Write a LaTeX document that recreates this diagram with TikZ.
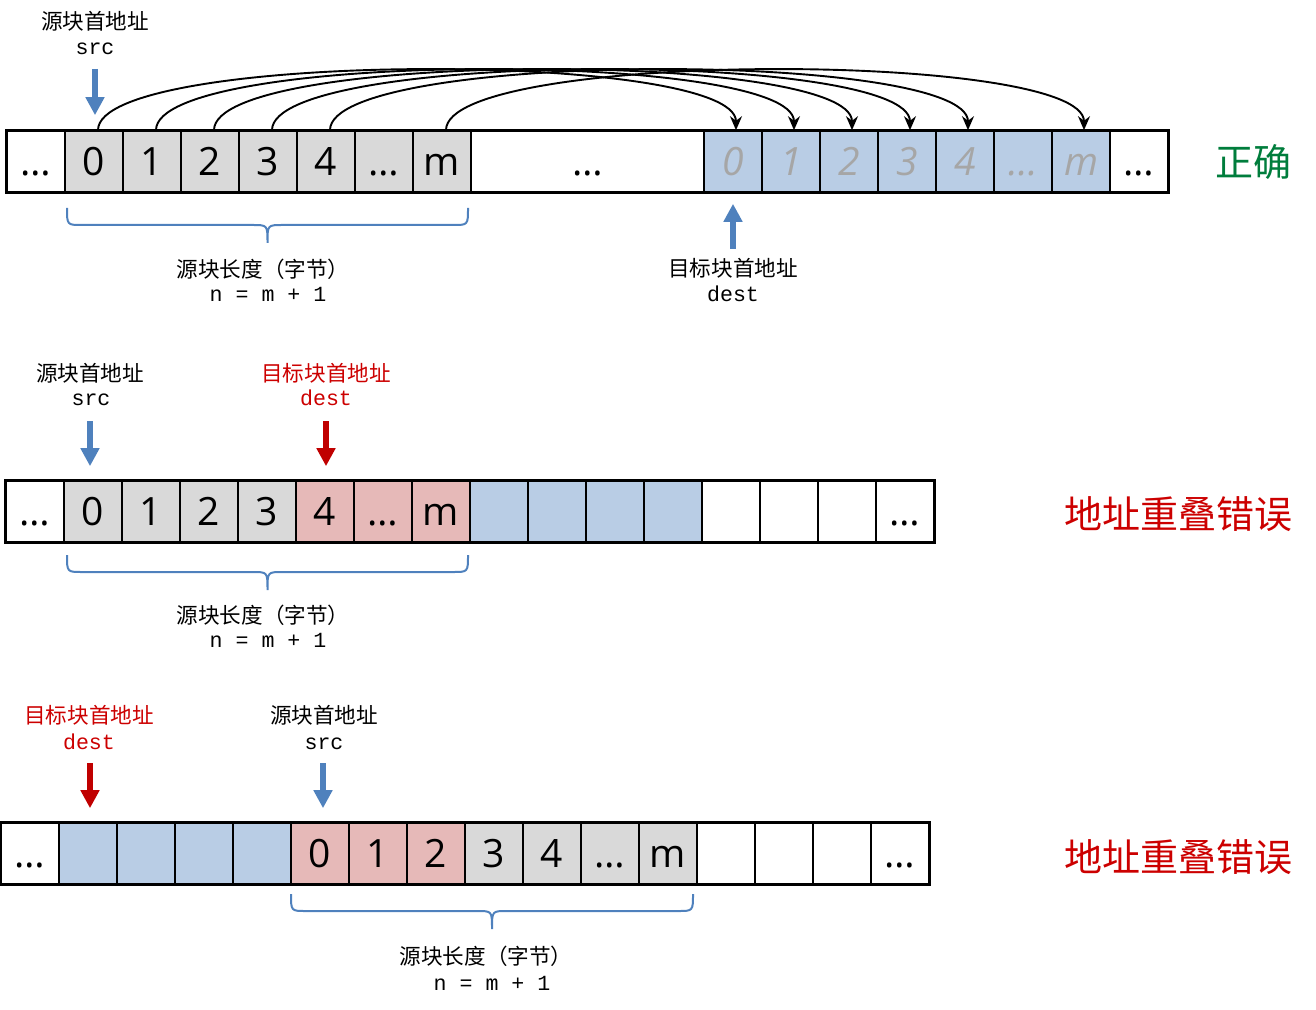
\documentclass[tikz,border=0pt]{standalone}
\usepackage{fontspec}
\setmainfont{Open Sans}
\newfontfamily\cjk{Noto Sans CJK SC}
\newfontfamily\monof{Liberation Mono}
\usetikzlibrary{arrows.meta}
\definecolor{cellgray}{HTML}{D9D9D9}
\definecolor{cellblue}{HTML}{B9CDE5}
\definecolor{cellpink}{HTML}{E6B9B8}
\definecolor{arrowblue}{HTML}{4F81BD}
\definecolor{arrowred}{HTML}{C00000}
\definecolor{textred}{HTML}{CC0000}
\definecolor{okgreen}{RGB}{0,125,60}
\definecolor{itgray}{HTML}{A6A6A6}
\begin{document}
\begin{tikzpicture}[x=0.5pt,y=-0.5pt,
  cell/.style={draw=black,line width=0.8pt,minimum width=29pt,minimum height=30.5pt,inner sep=0pt,
    font=\fontsize{19.5}{20}\selectfont,text height=13.9pt,text depth=0pt},
  cw/.style={fill=white},
  cg/.style={fill=cellgray},
  cb/.style={fill=cellblue},
  cp/.style={fill=cellpink},
  cbi/.style={fill=cellblue,text=itgray,font=\fontsize{19.5}{20}\selectfont\itshape},
  rowframe/.style={line width=1.4pt},
  copyarrow/.style={line width=0.95pt,-{Stealth[length=7pt,width=6pt]}},
  bluearrow/.style={draw=arrowblue,line width=3pt,-{Triangle[length=9pt,width=9pt]}},
  redarrow/.style={draw=arrowred,line width=3pt,-{Triangle[length=9pt,width=9pt]}},
  zh/.style={font=\cjk\fontsize{10.8}{12}\selectfont,anchor=base,inner sep=0pt},
  mono/.style={font=\monof\fontsize{10.8}{12}\selectfont,anchor=base,inner sep=0pt},
  big/.style={font=\cjk\fontsize{19}{22}\selectfont,anchor=center,inner sep=0pt},
  bracestyle/.style={draw=arrowblue,line width=1pt}
]
\useasboundingbox (0,0) rectangle (1316,1010);

% ---------- Row 1 ----------
\foreach \n/\x/\t/\s in {0/36/…/cw,1/94/0/cg,2/152/1/cg,3/210/2/cg,4/268/3/cg,5/326/4/cg,6/384/…/cg,7/442/m/cg,
  9/733/0/cbi,10/791/1/cbi,11/849/2/cbi,12/907/3/cbi,13/965/4/cbi,14/1023/…/cbi,15/1081/m/cbi,16/1139/…/cw}
  \node[cell,\s] (a\n) at (\x,161.5) {\t};
\node[cell,cw,minimum width=116.5pt] (a8) at (587.5,161.5) {…};
\draw[rowframe] (a0.north west) rectangle (a16.south east);

\foreach \p/\q in {1/9,2/10,3/11,4/12,5/13,7/15}
  \draw[copyarrow] ([xshift=2pt]a\p.north) .. controls +(0,-80) and +(0,-80) .. ([xshift=1.5pt]a\q.north);

\node[zh] (l1a) at (95,30) {源块首地址};
\node[mono] (l1b) at (95,55) {src};
\coordinate (s1) at (95,69);
\draw[bluearrow,shorten >=7.5pt] (s1) -- (s1 |- a1.north);

\node[zh] (l1c) at (733,277) {目标块首地址};
\node[mono] (l1d) at (733,302) {dest};
\coordinate (d1) at (733,249);
\draw[bluearrow,shorten >=5.5pt] (d1) -- (d1 |- a9.south);

\node[zh] (l1e) at (263,278) {源块长度（字节）};
\node[mono] (l1f) at (268,302) {n = m + 1};
\node[big,text=okgreen] (r1) at (1253,162) {正确};

% ---------- Row 2 ----------
\foreach \k/\t/\s in {0/…/cw,1/0/cg,2/1/cg,3/2/cg,4/3/cg,5/4/cp,6/…/cp,7/m/cp,8//cb,9//cb,10//cb,11//cb,12//cw,13//cw,14//cw,15/…/cw}
  \node[cell,\s] (b\k) at ({35+58*\k},511.5) {\t};
\draw[rowframe] (b0.north west) rectangle (b15.south east);

\node[zh] (l2a) at (90,381) {源块首地址};
\node[mono] (l2b) at (91,406) {src};
\coordinate (s2) at (90,421);
\draw[bluearrow,shorten >=7pt] (s2) -- (s2 |- b1.north);
\node[zh,text=textred] (l2c) at (326,381) {目标块首地址};
\node[mono,text=textred] (l2d) at (326,406) {dest};
\coordinate (d2) at (326,421);
\draw[redarrow,shorten >=7pt] (d2) -- (d2 |- b5.north);

\node[zh] (l2e) at (263,623) {源块长度（字节）};
\node[mono] (l2f) at (268,647) {n = m + 1};
\node[big,text=textred] (r2) at (1178,514) {地址重叠错误};

% ---------- Row 3 ----------
\foreach \k/\t/\s in {0/…/cw,1//cb,2//cb,3//cb,4//cb,5/0/cp,6/1/cp,7/2/cp,8/3/cg,9/4/cg,10/…/cg,11/m/cg,12//cw,13//cw,14//cw,15/…/cw}
  \node[cell,\s] (c\k) at ({30+58*\k},853.5) {\t};
\draw[rowframe] (c0.north west) rectangle (c15.south east);

\node[zh,text=textred] (l3a) at (89,723) {目标块首地址};
\node[mono,text=textred] (l3b) at (89,749) {dest};
\coordinate (d3) at (90,763);
\draw[redarrow,shorten >=7pt] (d3) -- (d3 |- c1.north);
\node[zh] (l3c) at (324,723) {源块首地址};
\node[mono] (l3d) at (324,749) {src};
\coordinate (s3) at (323,763);
\draw[bluearrow,shorten >=7pt] (s3) -- (s3 |- c5.north);

\node[zh] (l3e) at (486,964) {源块长度（字节）};
\node[mono] (l3f) at (492,990) {n = m + 1};
\node[big,text=textred] (r3) at (1178,857) {地址重叠错误};

% ---------- Braces ----------
\foreach \xa/\xb/\yt in {67/468/208,67/468/555,291/693/894} {
  \pgfmathsetmacro\xm{(\xa+\xb)/2}
  \draw[bracestyle] (\xa,\yt) .. controls (\xa,\yt+17) .. (\xa+15,\yt+17) -- (\xm-15,\yt+17)
    .. controls (\xm,\yt+17) .. (\xm,\yt+35)
    .. controls (\xm,\yt+17) .. (\xm+15,\yt+17) -- (\xb-15,\yt+17)
    .. controls (\xb,\yt+17) .. (\xb,\yt);
}
\end{tikzpicture}
\end{document}
